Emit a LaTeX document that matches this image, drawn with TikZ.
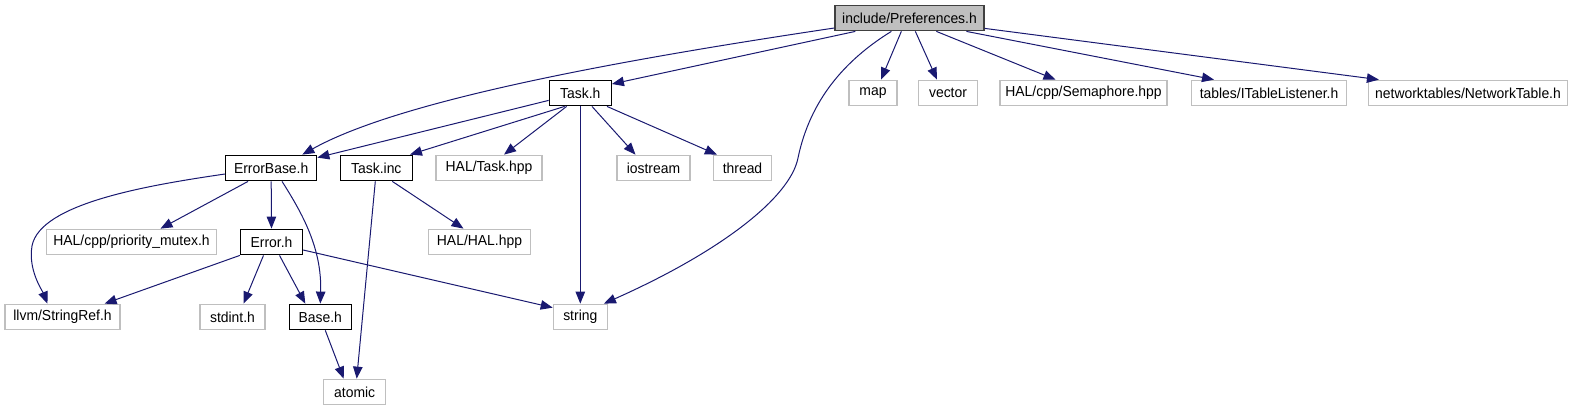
\documentclass[tikz,border=0pt]{standalone}
\usepackage{fontspec}
\setmainfont{Liberation Sans}[FakeStretch=0.96]
\usetikzlibrary{arrows.meta}
\definecolor{edgec}{HTML}{191970}
\definecolor{extc}{HTML}{BFBFBF}
\tikzset{
  x=1pt,y=-1pt,
  box/.style={draw, rectangle, inner sep=0pt, minimum height=25.5pt, font=\fontsize{14.5}{16}\selectfont},
  intbox/.style={box, draw=black, line width=1.3pt},
  extbox/.style={box, draw=extc, line width=1.2pt},
  rootbox/.style={box, draw=black!75, fill=extc, line width=1.3pt},
  edge/.style={draw=edgec, line width=1pt, -{Triangle[length=12pt,width=9.5pt]}},
}
\begin{document}
\begin{tikzpicture}
\useasboundingbox (0,0) rectangle (1576,411);
\node[rootbox, minimum width=149pt] (pref) at (909.5,18) {include/Preferences.h};
\node[intbox, minimum width=62pt] (task) at (580.3,93) {Task.h};
\node[extbox, minimum width=48pt] (map) at (873,93) {map};
\node[extbox, minimum width=59pt] (vector) at (948,93) {vector};
\node[extbox, minimum width=167pt] (sem) at (1083.5,93) {HAL/cpp/Semaphore.hpp};
\node[extbox, minimum width=155pt] (itl) at (1269,93) {tables/ITableListener.h};
\node[extbox, minimum width=199pt] (nt) at (1468,93) {networktables/NetworkTable.h};
\node[intbox, minimum width=91pt] (eb) at (271.2,168) {ErrorBase.h};
\node[intbox, minimum width=72pt] (tinc) at (376.3,168) {Task.inc};
\node[extbox, minimum width=106pt] (htask) at (489,168) {HAL/Task.hpp};
\node[extbox, minimum width=73pt] (ios) at (653.5,168) {iostream};
\node[extbox, minimum width=58pt] (thread) at (742.5,168) {thread};
\node[extbox, minimum width=170pt] (pm) at (131.5,242) {HAL/cpp/priority\_mutex.h};
\node[intbox, minimum width=62pt] (err) at (271.5,242) {Error.h};
\node[extbox, minimum width=102pt] (hal) at (479.5,242) {HAL/HAL.hpp};
\node[extbox, minimum width=115pt] (sref) at (62.5,317) {llvm/StringRef.h};
\node[extbox, minimum width=65pt] (stdint) at (232.5,317) {stdint.h};
\node[intbox, minimum width=62pt] (base) at (320.3,317) {Base.h};
\node[extbox, minimum width=54pt] (str) at (580.3,317) {string};
\node[extbox, minimum width=62pt] (atomic) at (354.7,392) {atomic};

% from Preferences
\draw[edge] ([yshift=-10pt]pref.west) .. controls (620,60) and (400,100) .. ([xshift=-15pt]eb.north east);
\draw[edge] ([xshift=21pt]pref.south west) -- ([yshift=9pt]task.east);
\draw[edge] ([xshift=57pt]pref.south west) .. controls (845,60) and (810,100) .. (798,158)
   .. controls (790,198) and (720,252) .. ([xshift=-4pt]str.north east);
\draw[edge] ([xshift=67pt]pref.south west) -- ([xshift=8pt]map.north);
\draw[edge] ([xshift=81pt]pref.south west) -- ([xshift=-11pt]vector.north);
\draw[edge] ([xshift=102pt]pref.south west) -- ([xshift=-28pt]sem.north);
\draw[edge] ([xshift=132pt]pref.south west) -- ([xshift=-55pt]itl.north);
\draw[edge] ([yshift=3pt]pref.south east) -- ([xshift=11pt]nt.north west);
% from Task.h
\draw[edge] ([yshift=6pt]task.south west) -- ([yshift=-3pt]eb.north east);
\draw[edge] ([xshift=16pt]task.south west) -- ([xshift=-3pt]tinc.north east);
\draw[edge] ([xshift=18pt]task.south west) -- ([xshift=15pt]htask.north);
\draw[edge] (task.south) -- (str.north);
\draw[edge] ([xshift=-20pt]task.south east) -- ([xshift=-18pt]ios.north);
\draw[edge] ([xshift=-5pt]task.south east) -- ([xshift=4pt]thread.north west);
% from ErrorBase
\draw[edge] ([yshift=-6pt]eb.west) .. controls (150,185) and (40,203) .. (32,246)
   .. controls (28,270) and (42,290) .. ([xshift=-15pt]sref.north);
\draw[edge] ([xshift=23pt]eb.south west) -- ([xshift=29pt]pm.north);
\draw[edge] (eb.south) -- (err.north);
\draw[edge] ([xshift=57pt]eb.south west) .. controls (302,213) and (322,248) .. (base.north);
% from Task.inc
\draw[edge] ([xshift=-1pt]tinc.south) -- ([xshift=2pt]atomic.north);
\draw[edge] ([xshift=16pt]tinc.south) -- ([xshift=-16pt]hal.north);
% from Error.h
\draw[edge] (err.south west) -- ([xshift=-16pt]sref.north east);
\draw[edge] ([xshift=-8pt]err.south) -- ([xshift=11pt]stdint.north);
\draw[edge] ([xshift=8pt]err.south) -- ([xshift=-15pt]base.north);
\draw[edge] ([yshift=-8pt]err.east) -- ([yshift=-4pt]str.north west);
% from Base.h
\draw[edge] ([xshift=5pt]base.south) -- ([xshift=-11pt]atomic.north);
\end{tikzpicture}
\end{document}
